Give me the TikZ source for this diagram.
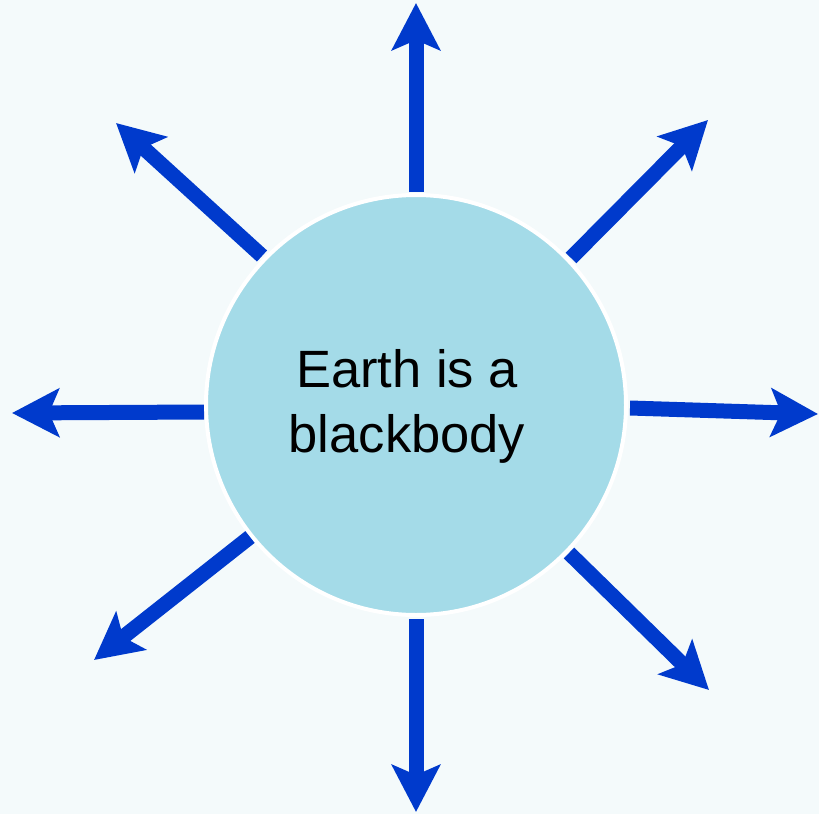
\documentclass[tikz,border=0pt]{standalone}
\usepackage{fontspec}
\setmainfont{Liberation Sans}
\usetikzlibrary{arrows.meta}
\definecolor{bgc}{RGB}{244,250,251}
\definecolor{earthc}{RGB}{164,219,232}
\definecolor{arrowc}{RGB}{0,58,204}
\tikzset{
  ray/.style={draw=arrowc, line width=15pt,
    -{Stealth[length=47pt,width=48pt,inset=10pt]}},
  earthstyle/.style={circle, fill=earthc, draw=white, line width=4pt,
    minimum size=420pt, inner sep=0pt},
  label/.style={font=\fontsize{52.5}{65}\selectfont, anchor=base, inner sep=0pt}
}
\begin{document}
\begin{tikzpicture}[x=1pt,y=-1pt]
\fill[bgc] (0,0) rectangle (819,814);
\useasboundingbox (0,0) rectangle (819,814);
\node[earthstyle] (earth) at (416,405) {};
\node[label] (line1) at (407,387) {Earth is a};
\node[label] (line2) at (407,452) {blackbody};
% ray start points and tips
\coordinate (sN) at (416,192);  \coordinate (tN) at (416,3);
\coordinate (sNE) at (571,258); \coordinate (tNE) at (708,120);
\coordinate (sE) at (630,408);  \coordinate (tE) at (818,414);
\coordinate (sSE) at (569,553); \coordinate (tSE) at (709,690);
\coordinate (sS) at (416,619);  \coordinate (tS) at (416,812);
\coordinate (sSW) at (250,537); \coordinate (tSW) at (94,660);
\coordinate (sW) at (204,412);  \coordinate (tW) at (12,413);
\coordinate (sNW) at (262,256); \coordinate (tNW) at (116,123);
\draw[ray] (sN) -- (tN);
\draw[ray] (sNE) -- (tNE);
\draw[ray] (sE) -- (tE);
\draw[ray] (sSE) -- (tSE);
\draw[ray] (sS) -- (tS);
\draw[ray] (sSW) -- (tSW);
\draw[ray] (sW) -- (tW);
\draw[ray] (sNW) -- (tNW);
\end{tikzpicture}
\end{document}
